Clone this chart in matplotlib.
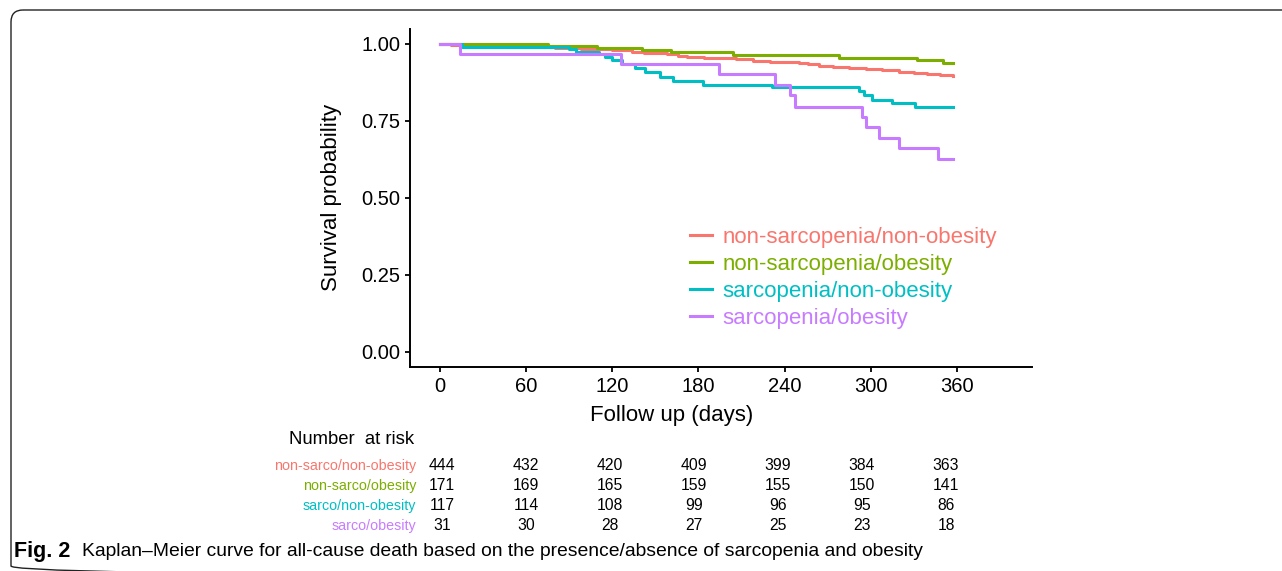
import numpy as np
import matplotlib.pyplot as plt
from matplotlib.patches import FancyBboxPatch

plt.rcParams['font.family'] = ['Liberation Sans', 'DejaVu Sans']

# Kaplan-Meier 曲线
t_nn = [0, 8, 20, 35, 46, 62, 80, 98, 109, 120, 134, 142, 148, 158, 166, 172, 184,
        195, 206, 218, 230, 242, 250, 256, 264, 274, 285, 297, 308, 320, 330, 339, 348, 357]
s_nn = [1.0, 0.998, 0.995, 0.993, 0.991, 0.989, 0.987, 0.985, 0.983, 0.979, 0.975, 0.972,
        0.970, 0.966, 0.962, 0.959, 0.956, 0.953, 0.950, 0.946, 0.943, 0.940, 0.937, 0.934,
        0.930, 0.926, 0.922, 0.918, 0.914, 0.910, 0.907, 0.903, 0.900, 0.896]
t_no = [0, 75, 109, 141, 161, 204, 278, 332, 350, 357]
s_no = [1.0, 0.994, 0.988, 0.979, 0.973, 0.964, 0.955, 0.947, 0.937, 0.937]
t_sn = [0, 15, 90, 95, 111, 115, 120, 127, 136, 143, 153, 162, 183, 231, 292, 295, 301,
        315, 331, 357]
s_sn = [1.0, 0.991, 0.983, 0.974, 0.966, 0.957, 0.948, 0.935, 0.922, 0.908, 0.894, 0.881,
        0.867, 0.859, 0.846, 0.834, 0.818, 0.807, 0.795, 0.795]
t_so = [0, 14, 126, 194, 233, 244, 247, 294, 297, 306, 320, 347, 357]
s_so = [1.0, 0.968, 0.935, 0.902, 0.868, 0.833, 0.797, 0.764, 0.730, 0.696, 0.663, 0.625, 0.625]

groups = ['non-sarcopenia/non-obesity', 'non-sarcopenia/obesity',
          'sarcopenia/non-obesity', 'sarcopenia/obesity']
short_groups = ['non-sarco/non-obesity', 'non-sarco/obesity',
                'sarco/non-obesity', 'sarco/obesity']
colors = ['#F8766D', '#7CAE00', '#00BFC4', '#C77CFF']

# 风险人数表
risk_times = [0, 60, 120, 180, 240, 300, 360]
risk_nn = [444, 432, 420, 409, 399, 384, 363]
risk_no = [171, 169, 165, 159, 155, 150, 141]
risk_sn = [117, 114, 108, 99, 96, 95, 86]
risk_so = [31, 30, 28, 27, 25, 23, 18]

W, H = 1282, 571
fig = plt.figure(figsize=(W / 100, H / 100), dpi=100)

# 主图
ax = fig.add_axes([410 / W, 1 - 367 / H, 622 / W, (367 - 28.6) / H])
curves = [(t_nn, s_nn), (t_no, s_no), (t_sn, s_sn), (t_so, s_so)]
handles = []
for (t, s), c in zip(curves, colors):
    ln, = ax.step(t, s, where='post', color=c, lw=2.2)
    handles.append(ln)

ax.set_xlim(-20.9, 412.3)
ax.set_ylim(-0.049, 1.05)
ax.set_xticks(risk_times)
ax.set_yticks([0, 0.25, 0.5, 0.75, 1.0])
ax.set_yticklabels(['0.00', '0.25', '0.50', '0.75', '1.00'])
ax.tick_params(labelsize=14.5, length=3.6, width=1.3, pad=3.5, colors='black')
for sp in ['top', 'right']:
    ax.spines[sp].set_visible(False)
for sp in ['left', 'bottom']:
    ax.spines[sp].set_linewidth(1.4)
ax.set_ylabel('Survival probability', fontsize=16, labelpad=14)
ax.set_xlabel('Follow up (days)', fontsize=16)
ax.xaxis.set_label_coords((672 - 410) / 622, -0.112)

ax.legend(handles, groups, loc='upper left', bbox_to_anchor=(690 / W, 1 - 227 / H),
          bbox_transform=fig.transFigure, frameon=False, fontsize=16,
          handlelength=1.0, handletextpad=0.45, labelspacing=0.27,
          borderpad=0, borderaxespad=0, labelcolor='linecolor')

# 风险表
rax = fig.add_axes([442 / W, 1 - 536 / H, 504 / W, 80 / H])
rax.set_xlim(0, 360)
rax.set_ylim(4, 0)
rax.axis('off')
for i, (lab, c, row) in enumerate(zip(short_groups, colors,
                                       [risk_nn, risk_no, risk_sn, risk_so])):
    rax.text(-18.6, i + 0.5, lab, color=c, fontsize=10.3, ha='right', va='center')
    for x, n in zip(risk_times, row):
        rax.text(x, i + 0.5, str(n), fontsize=11.3, ha='center', va='center')

# 像素坐标的覆盖层：边框、文字
ov = fig.add_axes([0, 0, 1, 1], zorder=-1)
ov.set_xlim(0, W)
ov.set_ylim(H, 0)
ov.axis('off')
ov.add_patch(FancyBboxPatch((11, 10), 1320, 568, boxstyle='round,pad=0,rounding_size=12',
                            fc='none', ec='#222222', lw=1.0))
ov.text(457, 269, 'Log-rank P<0.001', fontsize=16, ha='left', va='center')
ov.text(289, 440, 'Number  at risk', fontsize=13.3, ha='left', va='center')
ov.text(14, 552, 'Fig. 2', fontsize=15.5, fontweight='bold', ha='left', va='center')
ov.text(82, 552, 'Kaplan\u2013Meier curve for all-cause death based on the presence/absence '
        'of sarcopenia and obesity', fontsize=13.85, ha='left', va='center')

fig.savefig('out.png', dpi=100)
